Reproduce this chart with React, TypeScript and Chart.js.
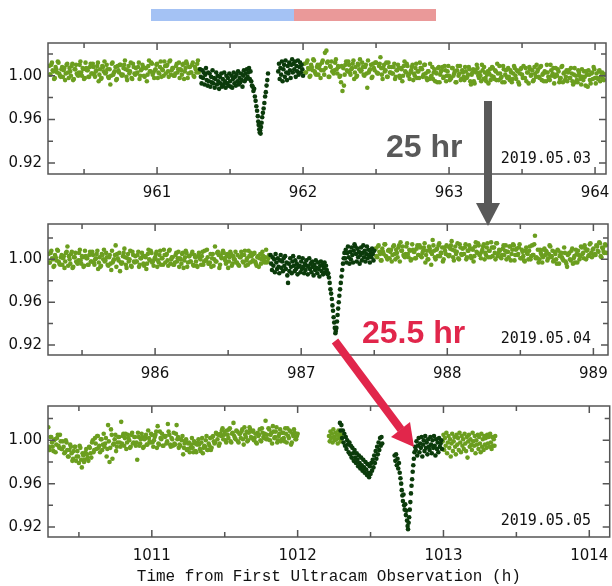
import React, { useEffect, useRef } from "react";
import { Chart, registerables } from "chart.js";

Chart.register(...registerables);

type Pt = [number, number];

// ---- axis tick values ----
const FLUX_TICKS = [0.92, 0.96, 1.0];
const FLUX_MINOR = [0.94, 0.98, 1.02];
const MAY03_HOURS = [961, 962, 963, 964];
const MAY03_HALF = [960.5, 961.5, 962.5, 963.5];
const MAY04_HOURS = [986, 987, 988, 989];
const MAY04_HALF = [985.5, 986.5, 987.5, 988.5];
const MAY05_HOURS = [1011, 1012, 1013, 1014];
const MAY05_HALF = [1010.5, 1011.5, 1012.5, 1013.5];

const DATES = ["2019.05.03", "2019.05.04", "2019.05.05"];
const X_TITLE = "Time from First Ultracam Observation (h)";
const GAP_1 = "25 hr";
const GAP_2 = "25.5 hr";

// ---- 2019.05.03 light curve (time h, relative flux) ----
const may03Out1: Pt[] = [
  [960.26,1.009],[960.27,1.001],[960.28,1.012],[960.29,1.004],[960.30,0.998],[960.31,1.006],[960.32,1.013],[960.33,1.002],[960.34,0.999],[960.35,1.008],
  [960.36,1.005],[960.37,0.996],[960.38,1.010],[960.39,1.003],[960.40,1.007],[960.41,1.000],[960.42,1.011],[960.43,0.997],[960.44,1.006],[960.45,1.002],
  [960.46,1.000],[960.47,1.010],[960.48,1.003],[960.49,1.007],[960.50,0.997],[960.51,1.012],[960.52,1.005],[960.53,0.999],[960.54,1.008],[960.55,1.002],
  [960.56,1.011],[960.57,1.001],[960.58,1.004],[960.59,1.009],[960.60,0.995],[960.61,1.006],[960.62,0.998],[960.63,1.008],[960.64,1.013],[960.65,1.003],
  [960.66,1.006],[960.67,0.998],[960.68,0.992],[960.69,1.011],[960.70,1.001],[960.71,1.004],[960.72,0.996],[960.73,1.009],[960.74,1.003],[960.75,1.010],
  [960.76,1.000],[960.77,1.007],[960.78,1.014],[960.79,0.999],[960.80,1.005],[960.81,1.002],[960.82,1.012],[960.83,0.997],[960.84,1.008],[960.85,1.001],
  [960.86,1.002],[960.87,1.008],[960.88,0.997],[960.89,1.005],[960.90,1.010],[960.91,1.000],[960.92,1.007],[960.93,0.995],[960.94,1.009],[960.95,1.004],
  [960.96,1.012],[960.97,1.001],[960.98,0.998],[960.99,1.006],[961.00,1.011],[961.01,1.003],[961.02,1.008],[961.03,0.999],[961.04,1.005],[961.05,1.013],
  [961.06,1.002],[961.07,1.010],[961.08,0.999],[961.09,1.014],[961.10,1.005],[961.11,1.007],[961.12,1.000],[961.13,1.009],[961.14,1.003],[961.15,1.012],
  [961.16,1.006],[961.17,1.001],[961.18,1.011],[961.19,1.004],[961.20,1.013],[961.21,0.998],[961.22,1.008],[961.23,1.003],[961.24,1.010],[961.25,1.000],
  [961.26,1.008],[961.27,1.003],[961.28,1.014],[961.29,1.006],
];
const may03Out1b: Pt[] = [
  [960.265,1.001],[960.275,1.010],[960.285,1.005],[960.295,0.997],[960.305,1.008],[960.315,1.003],[960.325,1.012],[960.335,1.000],[960.345,1.006],[960.355,0.999],
  [960.365,1.007],[960.375,1.002],[960.385,1.011],[960.395,0.998],[960.405,1.004],[960.415,1.009],[960.425,0.996],[960.435,1.006],[960.445,1.010],[960.455,1.001],
  [960.465,1.003],[960.475,1.013],[960.485,1.000],[960.495,1.006],[960.505,0.998],[960.515,1.007],[960.525,1.005],[960.535,0.999],[960.545,1.011],[960.555,1.002],
  [960.565,1.008],[960.575,0.999],[960.585,1.005],[960.595,1.012],[960.605,1.001],[960.615,0.997],[960.625,1.009],[960.635,1.004],[960.645,1.002],[960.655,1.010],
  [960.665,0.999],[960.675,1.006],[960.685,1.000],[960.695,1.012],[960.705,1.003],[960.715,1.008],[960.725,0.997],[960.735,1.005],[960.745,1.010],[960.755,1.001],
  [960.765,1.001],[960.775,1.010],[960.785,1.006],[960.795,0.996],[960.805,1.009],[960.815,1.004],[960.825,0.998],[960.835,1.011],[960.845,1.002],[960.855,1.007],
  [960.865,1.003],[960.875,1.012],[960.885,1.000],[960.895,1.006],[960.905,1.008],[960.915,0.999],[960.925,1.007],[960.935,1.001],[960.945,1.014],[960.955,1.004],
  [960.965,1.011],[960.975,1.003],[960.985,1.005],[960.995,1.010],[961.005,0.998],[961.015,1.002],[961.025,1.013],[961.035,1.006],[961.045,1.000],[961.055,1.009],
  [961.065,1.009],[961.075,1.004],[961.085,1.013],[961.095,1.001],[961.105,1.007],[961.115,1.000],[961.125,1.002],[961.135,1.011],[961.145,1.006],[961.155,0.998],
  [961.165,1.005],[961.175,1.010],[961.185,0.997],[961.195,1.007],[961.205,1.011],[961.215,1.002],[961.225,1.008],[961.235,1.003],[961.245,1.012],[961.255,0.999],
  [961.265,1.006],[961.275,1.011],[961.285,1.003],
];
const may03Win: Pt[] = [
  [961.295,1.006],[961.300,0.999],[961.305,0.993],[961.310,1.005],[961.315,0.998],[961.320,1.003],[961.325,0.992],[961.330,1.001],[961.335,1.007],[961.340,0.996],
  [961.345,0.991],[961.350,1.003],[961.355,0.995],[961.360,1.002],[961.365,0.990],[961.370,0.999],[961.375,0.994],[961.380,1.005],[961.385,0.993],[961.390,0.998],
  [961.395,0.989],[961.400,0.997],[961.405,1.003],[961.410,0.992],[961.415,1.000],[961.420,0.995],[961.425,0.988],[961.430,0.999],[961.435,0.993],[961.440,1.002],
  [961.445,0.990],[961.450,0.997],[961.455,0.992],[961.460,1.003],[961.465,0.995],[961.470,0.989],[961.475,1.000],[961.480,0.993],[961.485,0.998],[961.490,0.991],
  [961.495,1.002],[961.500,0.995],[961.505,0.990],[961.510,1.000],[961.515,0.989],[961.520,0.997],[961.525,1.003],[961.530,0.993],[961.535,0.999],[961.540,0.991],
  [961.545,1.001],[961.550,0.995],[961.555,1.004],[961.560,0.992],[961.565,0.998],[961.570,0.994],[961.575,1.002],[961.580,0.996],[961.585,0.990],[961.590,1.000],
  [961.595,1.005],[961.600,0.995],[961.605,1.002],[961.610,0.997],[961.615,1.006],[961.620,0.999],[961.625,1.003],[961.630,1.007],[961.635,0.997],[961.640,1.004],
  [961.645,0.995],[961.650,0.991],
  [961.655,0.990],[961.660,0.986],[961.665,0.988],[961.670,0.981],[961.675,0.977],[961.680,0.972],[961.685,0.968],[961.690,0.963],[961.693,0.958],[961.696,0.955],
  [961.700,0.951],[961.703,0.948],[961.706,0.950],[961.709,0.947],[961.712,0.953],[961.716,0.957],[961.720,0.962],[961.725,0.966],[961.730,0.970],[961.735,0.975],
  [961.740,0.981],[961.745,0.985],[961.750,0.991],[961.755,0.996],[961.760,1.002],
  [961.830,1.004],[961.835,1.011],[961.840,0.997],[961.845,1.007],[961.850,1.001],[961.855,1.013],[961.860,0.995],[961.865,1.006],[961.870,1.010],[961.875,0.999],
  [961.880,1.014],[961.885,1.003],[961.890,0.996],[961.895,1.009],[961.900,1.002],[961.905,1.012],[961.910,1.005],[961.915,0.998],[961.920,1.010],[961.925,1.015],
  [961.930,1.003],[961.935,1.011],[961.940,1.006],[961.945,1.013],[961.950,0.999],[961.955,1.009],[961.960,1.004],[961.965,1.014],[961.970,1.001],[961.975,1.008],
  [961.980,1.012],[961.985,1.003],[961.990,1.010],[961.995,1.006],[962.000,1.000],
];
const may03Out2: Pt[] = [
  [962.01,1.011],[962.02,1.003],[962.03,1.014],[962.04,1.006],[962.05,1.000],[962.06,1.008],[962.07,1.015],[962.08,1.004],[962.09,1.001],[962.10,1.010],
  [962.11,1.007],[962.12,0.998],[962.13,1.012],[962.14,1.005],[962.15,1.021],[962.16,1.023],[962.17,1.013],[962.18,0.999],[962.19,1.008],[962.20,1.004],
  [962.21,1.002],[962.22,1.012],[962.23,1.006],[962.24,1.009],[962.25,0.999],[962.26,0.994],[962.27,0.986],[962.28,0.991],[962.29,1.010],[962.30,1.005],
  [962.31,1.013],[962.32,1.003],[962.33,1.006],[962.34,1.011],[962.35,0.997],[962.36,1.008],[962.37,1.000],[962.38,1.010],[962.39,1.015],[962.40,1.005],
  [962.41,1.008],[962.42,1.000],[962.43,1.010],[962.44,0.989],[962.45,1.003],[962.46,1.006],[962.47,0.998],[962.48,1.011],[962.49,1.005],[962.50,1.012],
  [962.51,1.002],[962.52,1.009],[962.53,1.017],[962.54,1.001],[962.55,1.007],[962.56,1.004],[962.57,1.012],[962.58,0.999],[962.59,1.008],[962.60,1.003],
  [962.61,1.002],[962.62,1.008],[962.63,0.997],[962.64,1.005],[962.65,1.010],[962.66,1.000],[962.67,1.007],[962.68,0.995],[962.69,1.009],[962.70,1.004],
  [962.71,1.011],[962.72,1.000],[962.73,0.997],[962.74,1.005],[962.75,1.010],[962.76,1.002],[962.77,1.007],[962.78,0.998],[962.79,1.004],[962.80,1.012],
  [962.81,1.007],[962.82,0.999],[962.83,1.010],[962.84,1.002],[962.85,0.996],[962.86,1.004],[962.87,1.011],[962.88,1.000],[962.89,0.997],[962.90,1.006],
  [962.91,1.003],[962.92,0.994],[962.93,1.008],[962.94,1.001],[962.95,1.005],[962.96,0.998],[962.97,1.009],[962.98,0.995],[962.99,1.004],[963.00,1.000],
  [963.01,0.997],[963.02,1.007],[963.03,1.000],[963.04,1.004],[963.05,0.994],[963.06,1.009],[963.07,1.002],[963.08,0.996],[963.09,1.005],[963.10,0.999],
  [963.11,1.008],[963.12,0.998],[963.13,1.001],[963.14,1.006],[963.15,0.992],[963.16,1.003],[963.17,0.995],[963.18,1.005],[963.19,1.010],[963.20,1.000],
  [963.21,1.003],[963.22,0.995],[963.23,1.005],[963.24,1.008],[963.25,0.998],[963.26,1.001],[963.27,0.993],[963.28,1.006],[963.29,1.000],[963.30,1.007],
  [963.31,0.997],[963.32,1.004],[963.33,1.011],[963.34,0.996],[963.35,1.002],[963.36,0.999],[963.37,1.009],[963.38,0.994],[963.39,1.005],[963.40,0.998],
  [963.41,0.999],[963.42,1.005],[963.43,0.994],[963.44,1.002],[963.45,1.007],[963.46,0.997],[963.47,1.004],[963.48,0.992],[963.49,1.006],[963.50,1.001],
  [963.51,1.009],[963.52,0.998],[963.53,0.995],[963.54,1.003],[963.55,1.008],[963.56,1.000],[963.57,1.005],[963.58,0.996],[963.59,1.002],[963.60,1.010],
  [963.61,1.006],[963.62,0.998],[963.63,1.009],[963.64,1.001],[963.65,0.995],[963.66,1.003],[963.67,1.010],[963.68,0.999],[963.69,0.996],[963.70,1.005],
  [963.71,1.002],[963.72,0.993],[963.73,1.007],[963.74,1.000],[963.75,1.004],[963.76,0.997],[963.77,1.008],[963.78,0.994],[963.79,1.003],[963.80,0.999],
  [963.81,0.995],[963.82,1.005],[963.83,0.998],[963.84,1.002],[963.85,0.992],[963.86,1.007],[963.87,1.000],[963.88,0.994],[963.89,1.003],[963.90,0.997],
  [963.91,1.006],[963.92,0.996],[963.93,0.999],[963.94,1.004],[963.95,0.990],[963.96,1.001],[963.97,0.993],[963.98,1.003],[963.99,1.008],[964.00,0.998],
  [964.01,1.002],[964.02,0.997],[964.03,1.005],[964.04,0.999],[964.05,1.003],[964.06,0.996],[964.07,1.001],
];
const may03Out2b: Pt[] = [
  [962.015,1.003],[962.025,1.012],[962.035,1.007],[962.045,0.999],[962.055,1.010],[962.065,1.005],[962.075,1.014],[962.085,1.002],[962.095,1.008],[962.105,1.001],
  [962.115,1.010],[962.125,1.005],[962.135,1.014],[962.145,1.001],[962.155,1.007],[962.165,1.012],[962.175,0.999],[962.185,1.009],[962.195,1.013],[962.205,1.004],
  [962.215,1.005],[962.225,1.015],[962.235,1.002],[962.245,1.008],[962.255,1.000],[962.265,1.009],[962.275,1.007],[962.285,1.001],[962.295,1.013],[962.305,1.004],
  [962.315,1.010],[962.325,1.001],[962.335,1.007],[962.345,1.014],[962.355,1.003],[962.365,0.999],[962.375,1.011],[962.385,1.006],[962.395,1.004],[962.405,1.012],
  [962.415,1.001],[962.425,1.008],[962.435,1.002],[962.445,1.014],[962.455,1.005],[962.465,1.010],[962.475,0.999],[962.485,1.007],[962.495,1.012],[962.505,1.003],
  [962.515,1.002],[962.525,1.011],[962.535,1.007],[962.545,0.997],[962.555,1.010],[962.565,1.005],[962.575,0.999],[962.585,1.012],[962.595,1.003],[962.605,1.008],
  [962.615,1.002],[962.625,1.011],[962.635,0.999],[962.645,1.005],[962.655,1.007],[962.665,0.998],[962.675,1.006],[962.685,1.000],[962.695,1.013],[962.705,1.003],
  [962.715,1.009],[962.725,1.001],[962.735,1.003],[962.745,1.008],[962.755,0.996],[962.765,1.000],[962.775,1.011],[962.785,1.004],[962.795,0.998],[962.805,1.007],
  [962.815,1.006],[962.825,1.001],[962.835,1.010],[962.845,0.998],[962.855,1.004],[962.865,0.997],[962.875,0.999],[962.885,1.008],[962.895,1.003],[962.905,0.995],
  [962.915,1.002],[962.925,1.007],[962.935,0.994],[962.945,1.004],[962.955,1.008],[962.965,0.999],[962.975,1.005],[962.985,1.000],[962.995,1.009],[963.005,0.996],
  [963.015,0.998],[963.025,1.007],[963.035,1.002],[963.045,0.994],[963.055,1.005],[963.065,1.000],[963.075,1.009],[963.085,0.997],[963.095,1.003],[963.105,0.996],
  [963.115,1.004],[963.125,0.999],[963.135,1.008],[963.145,0.995],[963.155,1.001],[963.165,1.006],[963.175,0.993],[963.185,1.003],[963.195,1.007],[963.205,0.998],
  [963.215,1.000],[963.225,1.010],[963.235,0.997],[963.245,1.003],[963.255,0.995],[963.265,1.004],[963.275,1.002],[963.285,0.996],[963.295,1.008],[963.305,0.999],
  [963.315,1.005],[963.325,0.996],[963.335,1.002],[963.345,1.009],[963.355,0.998],[963.365,0.994],[963.375,1.006],[963.385,1.001],[963.395,0.999],[963.405,1.007],
  [963.415,0.996],[963.425,1.003],[963.435,0.997],[963.445,1.009],[963.455,1.000],[963.465,1.005],[963.475,0.994],[963.485,1.002],[963.495,1.007],[963.505,0.998],
  [963.515,0.998],[963.525,1.007],[963.535,1.003],[963.545,0.993],[963.555,1.006],[963.565,1.001],[963.575,0.995],[963.585,1.008],[963.595,0.999],[963.605,1.004],
  [963.615,0.999],[963.625,1.008],[963.635,0.996],[963.645,1.002],[963.655,1.004],[963.665,0.995],[963.675,1.003],[963.685,0.997],[963.695,1.010],[963.705,1.000],
  [963.715,1.007],[963.725,0.999],[963.735,1.001],[963.745,1.006],[963.755,0.994],[963.765,0.998],[963.775,1.009],[963.785,1.002],[963.795,0.996],[963.805,1.005],
  [963.815,1.003],[963.825,0.998],[963.835,1.007],[963.845,0.995],[963.855,1.001],[963.865,0.994],[963.875,0.996],[963.885,1.005],[963.895,1.000],[963.905,0.992],
  [963.915,0.999],[963.925,1.004],[963.935,0.991],[963.945,1.001],[963.955,1.005],[963.965,0.996],[963.975,1.002],[963.985,0.997],[963.995,1.006],[964.005,0.993],
  [964.015,0.998],[964.025,1.004],[964.035,0.995],[964.045,1.002],[964.055,0.997],[964.065,1.001],
];

// ---- 2019.05.04 light curve ----
const may04Out1: Pt[] = [
  [985.27,1.005],[985.28,0.997],[985.29,1.008],[985.30,1.000],[985.31,0.994],[985.32,1.002],[985.33,1.009],[985.34,0.998],[985.35,0.995],[985.36,1.004],
  [985.37,1.001],[985.38,0.992],[985.39,1.006],[985.40,1.012],[985.41,1.003],[985.42,0.996],[985.43,1.007],[985.44,0.993],[985.45,1.002],[985.46,0.998],
  [985.47,0.996],[985.48,1.006],[985.49,0.999],[985.50,1.003],[985.51,0.993],[985.52,1.008],[985.53,1.001],[985.54,0.995],[985.55,1.004],[985.56,0.998],
  [985.57,1.007],[985.58,0.997],[985.59,1.000],[985.60,1.005],[985.61,0.991],[985.62,1.002],[985.63,0.994],[985.64,1.004],[985.65,1.009],[985.66,0.999],
  [985.67,1.002],[985.68,0.994],[985.69,1.004],[985.70,0.990],[985.71,0.997],[985.72,1.000],[985.73,1.013],[985.74,1.005],[985.75,0.999],[985.76,0.989],
  [985.77,0.996],[985.78,1.003],[985.79,1.010],[985.80,0.995],[985.81,1.001],[985.82,0.998],[985.83,1.008],[985.84,0.993],[985.85,1.004],[985.86,0.997],
  [985.87,0.998],[985.88,1.004],[985.89,0.993],[985.90,1.001],[985.91,1.006],[985.92,0.996],[985.93,1.003],[985.94,0.991],[985.95,1.005],[985.96,1.000],
  [985.97,1.008],[985.98,0.997],[985.99,0.994],[986.00,1.002],[986.01,1.007],[986.02,0.999],[986.03,1.004],[986.04,0.995],[986.05,1.001],[986.06,1.009],
  [986.07,0.997],[986.08,1.005],[986.09,0.994],[986.10,1.009],[986.11,1.000],[986.12,1.002],[986.13,0.995],[986.14,1.004],[986.15,0.998],[986.16,1.007],
  [986.17,1.001],[986.18,0.996],[986.19,1.006],[986.20,0.999],[986.21,1.008],[986.22,0.993],[986.23,1.003],[986.24,0.998],[986.25,1.005],[986.26,0.995],
  [986.27,1.004],[986.28,0.998],[986.29,0.993],[986.30,1.006],[986.31,1.000],[986.32,1.003],[986.33,0.995],[986.34,1.008],[986.35,0.999],[986.36,1.002],
  [986.37,0.996],[986.38,1.005],[986.39,1.001],[986.40,0.994],[986.41,1.012],[986.42,0.998],[986.43,1.007],[986.44,0.992],[986.45,1.003],[986.46,1.006],
  [986.47,1.006],[986.48,0.999],[986.49,1.003],[986.50,0.992],[986.51,1.002],[986.52,1.005],[986.53,0.996],[986.54,1.000],[986.55,1.007],[986.56,0.997],
  [986.57,0.995],[986.58,1.002],[986.59,1.007],[986.60,0.998],[986.61,1.004],[986.62,0.994],[986.63,1.001],[986.64,1.008],[986.65,0.997],[986.66,1.003],
  [986.67,0.999],[986.68,1.006],[986.69,0.996],[986.70,1.002],[986.71,0.993],[986.72,1.005],[986.73,1.000],[986.74,1.003],[986.75,0.997],[986.76,1.009],
  [986.77,0.998],[986.78,1.004],
];
const may04Out1b: Pt[] = [
  [985.275,0.997],[985.285,1.006],[985.295,1.001],[985.305,0.993],[985.315,1.004],[985.325,0.999],[985.335,1.008],[985.345,0.996],[985.355,1.002],[985.365,0.995],
  [985.375,1.003],[985.385,0.998],[985.395,1.007],[985.405,0.994],[985.415,1.000],[985.425,1.005],[985.435,0.992],[985.445,1.002],[985.455,1.006],[985.465,0.997],
  [985.475,0.999],[985.485,1.009],[985.495,0.996],[985.505,1.002],[985.515,0.994],[985.525,1.003],[985.535,1.001],[985.545,0.995],[985.555,1.007],[985.565,0.998],
  [985.575,1.004],[985.585,0.995],[985.595,1.001],[985.605,1.008],[985.615,0.997],[985.625,0.993],[985.635,1.005],[985.645,1.000],[985.655,0.998],[985.665,1.006],
  [985.675,0.995],[985.685,1.002],[985.695,0.996],[985.705,1.008],[985.715,0.999],[985.725,1.004],[985.735,0.993],[985.745,1.001],[985.755,1.006],[985.765,0.997],
  [985.775,0.997],[985.785,1.006],[985.795,1.002],[985.805,0.992],[985.815,1.005],[985.825,1.000],[985.835,0.994],[985.845,1.007],[985.855,0.998],[985.865,1.003],
  [985.875,0.998],[985.885,1.007],[985.895,0.995],[985.905,1.001],[985.915,1.003],[985.925,0.994],[985.935,1.002],[985.945,0.996],[985.955,1.009],[985.965,0.999],
  [985.975,1.006],[985.985,0.998],[985.995,1.000],[986.005,1.005],[986.015,0.993],[986.025,0.997],[986.035,1.008],[986.045,1.001],[986.055,0.995],[986.065,1.004],
  [986.075,1.004],[986.085,0.999],[986.095,1.008],[986.105,0.996],[986.115,1.002],[986.125,0.995],[986.135,0.997],[986.145,1.006],[986.155,1.001],[986.165,0.993],
  [986.175,1.000],[986.185,1.005],[986.195,0.992],[986.205,1.002],[986.215,1.006],[986.225,0.997],[986.235,1.003],[986.245,0.998],[986.255,1.007],[986.265,0.994],
  [986.275,1.002],[986.285,0.994],[986.295,1.003],[986.305,1.001],[986.315,0.995],[986.325,1.007],[986.335,0.998],[986.345,0.999],[986.355,1.009],[986.365,0.996],
  [986.375,0.997],[986.385,0.993],[986.395,1.005],[986.405,1.000],[986.415,0.998],[986.425,1.006],[986.435,1.004],[986.445,0.995],[986.455,1.001],[986.465,1.008],
  [986.475,1.001],[986.485,0.996],[986.495,1.005],[986.505,0.998],[986.515,1.007],[986.525,0.994],[986.535,1.003],[986.545,1.000],[986.555,0.997],[986.565,1.004],
  [986.575,0.994],[986.585,1.002],[986.595,1.004],[986.605,0.997],[986.615,1.008],[986.625,0.999],[986.635,0.995],[986.645,1.003],[986.655,1.006],[986.665,0.998],
  [986.675,1.005],[986.685,0.998],[986.695,0.994],[986.705,1.003],[986.715,1.001],[986.725,0.996],[986.735,1.007],[986.745,0.999],[986.755,1.002],[986.765,0.997],
  [986.775,1.001],
];
const may04Win: Pt[] = [
  [986.790,1.004],[986.795,0.996],[986.800,0.990],[986.805,1.002],[986.810,0.994],[986.815,1.000],[986.820,0.988],[986.825,1.005],[986.830,0.997],[986.835,0.991],
  [986.840,1.001],[986.845,0.993],[986.850,0.987],[986.855,0.999],[986.860,1.004],[986.865,0.992],[986.870,0.998],[986.875,0.989],[986.880,1.001],[986.885,0.994],
  [986.890,1.003],[986.895,0.991],[986.900,0.997],[986.905,0.985],[986.910,0.978],[986.915,0.996],[986.920,0.989],[986.925,1.001],[986.930,0.993],[986.935,0.987],
  [986.940,0.998],[986.945,1.003],[986.950,0.994],[986.955,0.989],[986.960,0.999],[986.965,0.991],[986.970,0.996],[986.975,0.986],[986.980,0.993],[986.985,1.002],
  [986.990,0.994],[986.995,0.988],[987.000,0.998],[987.005,0.991],[987.010,1.001],[987.015,0.993],[987.020,0.987],[987.025,0.996],[987.030,0.990],[987.035,0.999],
  [987.040,0.994],[987.045,0.986],[987.050,0.993],[987.055,1.001],[987.060,0.991],[987.065,0.996],[987.070,0.988],[987.075,0.998],[987.080,0.993],[987.085,0.985],
  [987.090,0.995],[987.095,0.990],[987.100,0.999],[987.105,0.992],[987.110,0.987],[987.115,0.997],[987.120,0.991],[987.125,0.984],[987.130,0.994],[987.135,0.998],
  [987.140,0.989],[987.145,0.995],[987.150,0.986],[987.155,0.992],[987.160,0.997],[987.165,0.988],[987.170,0.994],[987.175,0.990],[987.180,0.986],
  [987.185,0.987],[987.190,0.983],[987.195,0.978],[987.200,0.972],[987.205,0.968],[987.210,0.963],[987.214,0.957],[987.218,0.952],[987.222,0.946],[987.226,0.941],
  [987.230,0.936],[987.234,0.931],[987.237,0.933],[987.241,0.936],[987.245,0.942],[987.249,0.948],[987.253,0.954],[987.257,0.960],[987.261,0.966],[987.266,0.972],
  [987.271,0.978],[987.276,0.984],[987.281,0.990],[987.286,0.996],[987.291,1.001],[987.296,1.006],
  [987.300,1.001],[987.305,1.009],[987.310,0.997],[987.315,1.006],[987.320,1.012],[987.325,1.002],[987.330,0.996],[987.335,1.007],[987.340,1.000],[987.345,1.011],
  [987.350,1.004],[987.355,0.997],[987.360,1.008],[987.365,1.014],[987.370,1.012],[987.375,1.005],[987.380,0.998],[987.385,1.010],[987.390,1.002],[987.395,1.007],
  [987.400,0.996],[987.405,1.004],[987.410,1.011],[987.415,0.999],[987.420,1.006],[987.425,1.013],[987.430,1.002],[987.435,1.008],[987.440,0.998],[987.445,1.005],
  [987.450,1.012],[987.455,1.001],[987.460,1.009],[987.465,1.004],[987.470,0.997],[987.475,1.007],[987.480,1.002],[987.485,1.010],[987.490,1.005],[987.495,0.999],
  [987.500,1.008],
];
const may04Out2: Pt[] = [
  [987.51,1.010],[987.52,1.002],[987.53,1.013],[987.54,1.005],[987.55,0.999],[987.56,1.007],[987.57,1.014],[987.58,1.003],[987.59,1.000],[987.60,1.009],
  [987.61,1.007],[987.62,0.998],[987.63,1.012],[987.64,1.005],[987.65,1.009],[987.66,1.002],[987.67,1.013],[987.68,1.016],[987.69,1.008],[987.70,1.004],
  [987.71,1.002],[987.72,1.012],[987.73,1.005],[987.74,1.009],[987.75,0.999],[987.76,1.014],[987.77,1.007],[987.78,1.001],[987.79,1.010],[987.80,1.004],
  [987.81,1.013],[987.82,1.003],[987.83,1.006],[987.84,1.011],[987.85,0.997],[987.86,1.008],[987.87,1.000],[987.88,1.010],[987.89,0.995],[987.90,1.018],
  [987.91,1.008],[987.92,1.000],[987.93,1.010],[987.94,1.013],[987.95,1.003],[987.96,1.006],[987.97,0.998],[987.98,1.011],[987.99,1.005],[988.00,1.012],
  [988.01,1.003],[988.02,1.010],[988.03,1.017],[988.04,1.002],[988.05,1.008],[988.06,1.005],[988.07,1.015],[988.08,1.000],[988.09,1.011],[988.10,1.004],
  [988.11,1.005],[988.12,1.011],[988.13,1.000],[988.14,1.008],[988.15,1.013],[988.16,1.003],[988.17,1.010],[988.18,0.998],[988.19,1.012],[988.20,1.007],
  [988.21,1.015],[988.22,1.004],[988.23,1.001],[988.24,1.009],[988.25,1.014],[988.26,1.006],[988.27,1.011],[988.28,1.002],[988.29,1.008],[988.30,1.016],
  [988.31,1.003],[988.32,1.011],[988.33,1.000],[988.34,1.015],[988.35,1.006],[988.36,1.008],[988.37,1.001],[988.38,1.010],[988.39,1.004],[988.40,1.013],
  [988.41,1.007],[988.42,1.002],[988.43,1.012],[988.44,1.005],[988.45,1.014],[988.46,0.999],[988.47,1.009],[988.48,1.004],[988.49,1.011],[988.50,1.001],
  [988.51,1.009],[988.52,1.003],[988.53,0.998],[988.54,1.011],[988.55,1.005],[988.56,1.008],[988.57,1.000],[988.58,1.013],[988.59,1.004],[988.60,1.022],
  [988.61,1.002],[988.62,1.009],[988.63,1.000],[988.64,1.006],[988.65,0.997],[988.66,1.009],[988.67,1.004],[988.68,1.007],[988.69,1.001],[988.70,1.013],
  [988.71,1.002],[988.72,1.008],[988.73,0.999],[988.74,1.005],[988.75,0.996],[988.76,1.008],[988.77,1.003],[988.78,1.006],[988.79,1.000],[988.80,1.011],
  [988.81,0.998],[988.82,0.993],[988.83,1.005],[988.84,1.000],[988.85,1.008],[988.86,0.996],[988.87,1.003],[988.88,1.009],[988.89,0.997],[988.90,1.004],
  [988.91,1.003],[988.92,1.011],[988.93,1.006],[988.94,1.013],[988.95,1.000],[988.96,1.009],[988.97,1.004],[988.98,1.015],[988.99,1.002],[989.00,1.010],
  [989.01,1.005],[989.02,1.013],[989.03,1.008],[989.04,1.016],[989.05,1.003],[989.06,1.011],[989.07,1.007],[989.08,1.014],[989.09,1.006],
];
const may04Out2b: Pt[] = [
  [987.515,1.003],[987.525,1.012],[987.535,1.007],[987.545,0.999],[987.555,1.010],[987.565,1.005],[987.575,1.014],[987.585,1.002],[987.595,1.008],[987.605,1.001],
  [987.615,1.009],[987.625,1.004],[987.635,1.013],[987.645,1.000],[987.655,1.006],[987.665,1.011],[987.675,0.998],[987.685,1.008],[987.695,1.012],[987.705,1.003],
  [987.715,1.005],[987.725,1.015],[987.735,1.002],[987.745,1.008],[987.755,1.000],[987.765,1.009],[987.775,1.007],[987.785,1.001],[987.795,1.013],[987.805,1.004],
  [987.815,1.011],[987.825,1.002],[987.835,1.008],[987.845,1.015],[987.855,1.004],[987.865,1.000],[987.875,1.012],[987.885,1.007],[987.895,1.005],[987.905,1.013],
  [987.915,1.002],[987.925,1.009],[987.935,1.003],[987.945,1.015],[987.955,1.006],[987.965,1.011],[987.975,1.000],[987.985,1.008],[987.995,1.013],[988.005,1.004],
  [988.015,1.004],[988.025,1.013],[988.035,1.009],[988.045,0.999],[988.055,1.012],[988.065,1.007],[988.075,1.001],[988.085,1.014],[988.095,1.005],[988.105,1.010],
  [988.115,1.005],[988.125,1.014],[988.135,1.002],[988.145,1.008],[988.155,1.010],[988.165,1.001],[988.175,1.009],[988.185,1.003],[988.195,1.016],[988.205,1.006],
  [988.215,1.013],[988.225,1.005],[988.235,1.007],[988.245,1.012],[988.255,1.000],[988.265,1.004],[988.275,1.015],[988.285,1.008],[988.295,1.002],[988.305,1.011],
  [988.315,1.011],[988.325,1.006],[988.335,1.015],[988.345,1.003],[988.355,1.009],[988.365,1.002],[988.375,1.004],[988.385,1.013],[988.395,1.008],[988.405,1.000],
  [988.415,1.007],[988.425,1.012],[988.435,0.999],[988.445,1.009],[988.455,1.013],[988.465,1.004],[988.475,1.010],[988.485,1.005],[988.495,1.014],[988.505,1.001],
  [988.515,1.007],[988.525,0.999],[988.535,1.008],[988.545,1.006],[988.555,1.000],[988.565,1.012],[988.575,1.003],[988.585,1.004],[988.595,1.014],[988.605,1.001],
  [988.615,1.001],[988.625,0.997],[988.635,1.009],[988.645,1.004],[988.655,1.002],[988.665,1.010],[988.675,1.008],[988.685,0.999],[988.695,1.005],[988.705,1.012],
  [988.715,1.003],[988.725,0.998],[988.735,1.007],[988.745,1.000],[988.755,1.009],[988.765,0.996],[988.775,1.005],[988.785,1.002],[988.795,0.999],[988.805,1.006],
  [988.815,0.996],[988.825,1.004],[988.835,1.006],[988.845,0.999],[988.855,1.010],[988.865,1.001],[988.875,0.997],[988.885,1.005],[988.895,1.008],[988.905,1.000],
  [988.915,1.012],[988.925,1.005],[988.935,1.001],[988.945,1.010],[988.955,1.008],[988.965,1.003],[988.975,1.014],[988.985,1.006],[988.995,1.009],[989.005,1.004],
  [989.015,1.004],[989.025,1.012],[989.035,1.007],[989.045,1.015],[989.055,1.002],[989.065,1.010],[989.075,1.006],[989.085,1.013],
];

// ---- 2019.05.05 light curve ----
const may05Out1: Pt[] = [
  [1010.29,1.012],[1010.30,0.991],[1010.31,1.003],[1010.32,0.994],[1010.33,1.000],[1010.34,0.989],[1010.35,1.002],[1010.36,0.995],[1010.37,1.005],[1010.38,0.992],
  [1010.39,0.999],[1010.40,0.988],[1010.41,1.000],[1010.42,0.991],[1010.43,0.985],[1010.44,0.996],[1010.45,0.988],[1010.46,0.983],[1010.47,0.994],[1010.48,0.981],
  [1010.49,0.990],[1010.50,0.979],[1010.51,0.993],[1010.52,0.975],[1010.53,0.986],[1010.54,0.982],[1010.55,0.992],[1010.56,0.984],[1010.57,0.994],[1010.58,0.988],
  [1010.59,0.998],[1010.60,0.989],[1010.61,1.002],[1010.62,0.992],[1010.63,1.004],[1010.64,0.995],[1010.65,1.001],[1010.66,0.991],[1010.67,1.006],[1010.68,0.997],
  [1010.69,0.985],[1010.70,1.014],[1010.71,0.980],[1010.72,1.010],[1010.73,0.983],[1010.74,0.997],[1010.75,1.005],[1010.76,0.994],[1010.77,1.003],[1010.78,0.998],
  [1010.79,1.017],[1010.80,1.004],[1010.81,0.995],[1010.82,1.006],[1010.83,0.998],[1010.84,1.002],[1010.85,0.993],[1010.86,1.005],[1010.87,0.997],[1010.88,1.003],
  [1010.89,0.995],[1010.90,0.982],[1010.91,1.003],[1010.92,0.997],[1010.93,1.006],[1010.94,0.993],[1010.95,1.001],[1010.96,1.005],[1010.97,0.996],[1010.98,1.002],
  [1010.99,0.998],[1011.00,1.005],[1011.01,0.994],[1011.02,1.003],[1011.03,1.008],[1011.04,1.013],[1011.05,0.996],[1011.06,1.002],[1011.07,1.006],[1011.08,0.995],
  [1011.09,1.003],[1011.10,0.997],[1011.11,1.015],[1011.12,1.005],[1011.13,0.994],[1011.14,1.001],[1011.15,1.007],[1011.16,0.996],[1011.17,1.014],[1011.18,1.003],
  [1011.19,0.996],[1011.20,1.001],[1011.21,1.004],[1011.22,0.993],[1011.23,0.999],[1011.24,0.991],[1011.25,0.997],[1011.26,0.989],[1011.27,0.996],[1011.28,0.993],
  [1011.29,0.999],[1011.30,0.990],[1011.31,0.996],[1011.32,1.001],[1011.33,0.992],[1011.34,0.998],[1011.35,0.988],[1011.36,0.995],[1011.37,1.000],[1011.38,0.991],
  [1011.39,0.997],[1011.40,1.002],[1011.41,0.993],[1011.42,1.004],[1011.43,0.997],[1011.44,1.007],[1011.45,1.001],[1011.46,0.995],[1011.47,1.006],[1011.48,1.009],
  [1011.49,1.001],[1011.50,1.008],[1011.51,0.998],[1011.52,1.005],[1011.53,1.010],[1011.54,0.999],[1011.55,1.006],[1011.56,1.016],[1011.57,1.002],[1011.58,1.009],
  [1011.59,0.999],[1011.60,1.006],[1011.61,1.002],[1011.62,1.010],[1011.63,0.996],[1011.64,1.005],[1011.65,1.008],[1011.66,1.000],[1011.67,1.012],[1011.68,1.003],
  [1011.69,1.008],[1011.70,1.000],[1011.71,1.006],[1011.72,0.997],[1011.73,1.004],[1011.74,1.010],[1011.75,0.999],[1011.76,1.007],[1011.77,1.002],[1011.78,1.018],
  [1011.79,1.005],[1011.80,1.011],[1011.81,1.000],[1011.82,1.007],[1011.83,1.013],[1011.84,1.002],[1011.85,1.008],[1011.86,0.998],[1011.87,1.004],[1011.88,1.010],
  [1011.89,1.001],[1011.90,1.007],[1011.91,0.999],[1011.92,1.006],[1011.93,1.011],[1011.94,1.002],[1011.95,1.008],[1011.96,0.998],[1011.97,1.004],[1011.98,1.007],
  [1011.99,1.001],[1012.00,1.006],
];
const may05Out1b: Pt[] = [
  [1010.295,0.994],[1010.305,1.003],[1010.315,0.998],[1010.325,0.990],[1010.335,1.001],[1010.345,0.996],[1010.355,1.005],[1010.365,0.993],[1010.375,0.999],[1010.385,0.992],
  [1010.395,0.994],[1010.405,0.989],[1010.415,0.998],[1010.425,0.985],[1010.435,0.991],[1010.445,0.994],[1010.455,0.981],[1010.465,0.990],[1010.475,0.994],[1010.485,0.985],
  [1010.495,0.985],[1010.505,0.995],[1010.515,0.982],[1010.525,0.988],[1010.535,0.980],[1010.545,0.989],[1010.555,0.987],[1010.565,0.981],[1010.575,0.993],[1010.585,0.984],
  [1010.595,1.000],[1010.605,0.991],[1010.615,0.997],[1010.625,1.004],[1010.635,0.993],[1010.645,0.989],[1010.655,1.001],[1010.665,0.996],[1010.675,0.994],[1010.685,1.002],
  [1010.695,0.992],[1010.705,0.999],[1010.715,0.993],[1010.725,1.005],[1010.735,0.996],[1010.745,1.001],[1010.755,0.990],[1010.765,0.998],[1010.775,1.003],[1010.785,0.994],
  [1010.795,0.997],[1010.805,1.006],[1010.815,1.002],[1010.825,0.992],[1010.835,1.005],[1010.845,1.000],[1010.855,0.994],[1010.865,1.007],[1010.875,0.998],[1010.885,1.003],
  [1010.895,0.998],[1010.905,1.007],[1010.915,0.995],[1010.925,1.001],[1010.935,1.003],[1010.945,0.994],[1010.955,1.002],[1010.965,0.996],[1010.975,1.009],[1010.985,0.999],
  [1010.995,1.006],[1011.005,0.998],[1011.015,1.000],[1011.025,1.005],[1011.035,0.993],[1011.045,0.997],[1011.055,1.008],[1011.065,1.001],[1011.075,0.995],[1011.085,1.004],
  [1011.095,1.004],[1011.105,0.999],[1011.115,1.008],[1011.125,0.996],[1011.135,1.002],[1011.145,0.995],[1011.155,0.997],[1011.165,1.006],[1011.175,1.001],[1011.185,0.993],
  [1011.195,0.995],[1011.205,1.000],[1011.215,0.987],[1011.225,0.997],[1011.235,1.001],[1011.245,0.992],[1011.255,0.998],[1011.265,0.993],[1011.275,1.002],[1011.285,0.989],
  [1011.295,0.997],[1011.305,0.989],[1011.315,0.998],[1011.325,0.996],[1011.335,0.990],[1011.345,1.002],[1011.355,0.993],[1011.365,0.994],[1011.375,1.004],[1011.385,0.991],
  [1011.395,0.995],[1011.405,0.991],[1011.415,1.003],[1011.425,0.999],[1011.435,0.998],[1011.445,1.006],[1011.455,1.005],[1011.465,0.997],[1011.475,1.004],[1011.485,1.011],
  [1011.495,1.005],[1011.505,1.000],[1011.515,1.009],[1011.525,1.002],[1011.535,1.011],[1011.545,0.998],[1011.555,1.007],[1011.565,1.004],[1011.575,1.001],[1011.585,1.008],
  [1011.595,0.998],[1011.605,1.006],[1011.615,1.008],[1011.625,1.001],[1011.635,1.012],[1011.645,1.003],[1011.655,0.999],[1011.665,1.007],[1011.675,1.010],[1011.685,1.002],
  [1011.695,1.009],[1011.705,1.002],[1011.715,0.998],[1011.725,1.007],[1011.735,1.005],[1011.745,1.000],[1011.755,1.011],[1011.765,1.003],[1011.775,1.006],[1011.785,1.001],
  [1011.795,1.001],[1011.805,1.010],[1011.815,1.005],[1011.825,0.997],[1011.835,1.008],[1011.845,1.003],[1011.855,1.012],[1011.865,1.000],[1011.875,1.006],[1011.885,0.999],
  [1011.895,1.007],[1011.905,1.002],[1011.915,1.011],[1011.925,0.998],[1011.935,1.004],[1011.945,1.009],[1011.955,0.996],[1011.965,1.006],[1011.975,1.010],[1011.985,1.001],
  [1011.995,1.004],
];
const may05Out2: Pt[] = [
  [1012.215,1.004],[1012.220,0.999],[1012.225,1.008],[1012.230,1.002],[1012.235,1.006],[1012.240,0.998],[1012.245,1.010],[1012.250,1.003],[1012.255,1.000],
  [1012.260,1.007],[1012.265,1.001],[1012.270,1.005],[1012.275,0.997],[1012.280,1.009],[1012.285,1.002],[1012.290,1.006],[1012.295,0.999],[1012.300,1.004],
];
const may05Win: Pt[] = [
  [1012.290,1.016],[1012.295,1.009],[1012.300,1.014],[1012.305,1.002],[1012.310,1.009],[1012.315,0.998],[1012.320,1.006],[1012.325,0.995],[1012.330,1.003],[1012.335,0.992],
  [1012.340,1.000],[1012.345,0.996],[1012.350,0.989],[1012.355,0.998],[1012.360,0.987],[1012.365,0.995],[1012.370,0.984],[1012.375,0.993],[1012.380,0.988],[1012.385,0.981],
  [1012.390,0.991],[1012.395,0.984],[1012.400,0.979],[1012.405,0.988],[1012.410,0.982],[1012.415,0.976],[1012.420,0.986],[1012.425,0.979],[1012.430,0.974],[1012.435,0.984],
  [1012.440,0.977],[1012.445,0.972],[1012.450,0.982],[1012.455,0.975],[1012.460,0.970],[1012.465,0.980],[1012.470,0.973],[1012.475,0.968],[1012.480,0.978],[1012.485,0.970],
  [1012.490,0.966],[1012.495,0.976],[1012.500,0.969],[1012.505,0.979],[1012.510,0.972],[1012.515,0.982],[1012.520,0.975],[1012.525,0.986],[1012.530,0.979],[1012.535,0.990],
  [1012.540,0.983],[1012.545,0.994],[1012.550,0.987],[1012.555,0.998],[1012.560,0.991],[1012.565,1.002],[1012.570,0.995],[1012.575,1.003],[1012.580,0.997],
  [1012.665,0.986],[1012.670,0.981],[1012.675,0.987],[1012.680,0.977],[1012.685,0.983],[1012.690,0.974],[1012.695,0.979],[1012.700,0.970],[1012.705,0.965],[1012.710,0.960],
  [1012.714,0.954],[1012.718,0.949],[1012.722,0.944],[1012.726,0.950],[1012.730,0.940],[1012.734,0.936],[1012.738,0.941],[1012.742,0.931],[1012.746,0.935],[1012.750,0.926],
  [1012.754,0.921],[1012.757,0.918],[1012.761,0.924],[1012.765,0.929],[1012.769,0.936],[1012.773,0.943],[1012.777,0.951],[1012.781,0.958],[1012.785,0.964],[1012.789,0.971],
  [1012.793,0.977],[1012.797,0.983],[1012.801,0.989],[1012.805,0.994],
  [1012.810,0.991],[1012.815,0.999],[1012.820,0.986],[1012.825,0.995],[1012.830,1.002],[1012.835,0.989],[1012.840,0.997],[1012.845,0.993],[1012.850,1.003],[1012.855,0.985],
  [1012.860,0.996],[1012.865,1.000],[1012.870,0.990],[1012.875,1.004],[1012.880,0.993],[1012.885,0.998],[1012.890,0.987],[1012.895,1.001],[1012.900,0.994],[1012.905,0.991],
  [1012.910,1.003],[1012.915,0.996],[1012.920,0.988],[1012.925,1.000],[1012.930,0.993],[1012.935,1.004],[1012.940,0.995],[1012.945,0.986],[1012.950,1.001],[1012.955,0.992],
  [1012.960,0.998],[1012.965,0.989],[1012.970,1.002],[1012.975,0.994],[1012.980,0.997],[1012.985,1.000],[1012.990,0.992],
];
const may05Out3: Pt[] = [
  [1012.995,0.999],[1013.000,1.005],[1013.005,0.991],[1013.010,1.002],[1013.015,0.995],[1013.020,1.007],[1013.025,0.988],[1013.030,0.998],[1013.035,1.004],[1013.040,0.993],
  [1013.045,1.001],[1013.050,0.985],[1013.055,0.997],[1013.060,1.006],[1013.065,0.990],[1013.070,0.999],[1013.075,1.003],[1013.080,0.994],[1013.085,0.987],[1013.090,1.005],
  [1013.095,0.996],[1013.100,1.002],[1013.105,0.991],[1013.110,1.007],[1013.115,0.998],[1013.120,0.989],[1013.125,1.004],[1013.130,0.995],[1013.135,1.001],[1013.140,0.992],
  [1013.145,1.006],[1013.150,0.997],[1013.155,0.990],[1013.160,1.003],[1013.165,0.984],[1013.170,0.999],[1013.175,1.005],[1013.180,0.994],[1013.185,1.001],[1013.190,0.996],
  [1013.195,0.991],[1013.200,1.007],[1013.205,0.999],[1013.210,0.995],[1013.215,1.004],[1013.220,0.988],[1013.225,1.000],[1013.230,0.996],[1013.235,1.005],[1013.240,0.992],
  [1013.245,1.003],[1013.250,0.997],[1013.255,0.989],[1013.260,1.006],[1013.265,0.994],[1013.270,1.001],[1013.275,0.991],[1013.280,1.004],[1013.285,0.996],[1013.290,1.002],
  [1013.295,0.993],[1013.300,1.005],[1013.305,0.997],[1013.310,1.003],[1013.315,0.994],[1013.320,1.006],[1013.325,0.998],[1013.330,0.992],[1013.335,1.003],[1013.340,0.995],
  [1013.345,1.001],[1013.350,0.995],[1013.355,1.004],
];

// ---- colours ----
const LIGHT = "#6b9e1f";
const DARK = "#0b3b0b";
const FRAME = "#555555";
const INK = "#111111";
const GREY_ARROW = "#595959";
const RED = "#e1264b";

interface PanelDef {
  top: number;
  height: number;
  padTop: number;
  padRight: number;
  axisH: number;
  xMin: number;
  xMax: number;
  yMin: number;
  yMax: number;
  hours: number[];
  half: number[];
  outside: Pt[][];
  window: Pt[][];
  title?: string;
}

const PANELS: PanelDef[] = [
  {
    top: 30, height: 180, padTop: 13, padRight: 6, axisH: 36,
    xMin: 960.253, xMax: 964.075, yMin: 0.91, yMax: 1.03,
    hours: MAY03_HOURS, half: MAY03_HALF,
    outside: [may03Out1, may03Out1b, may03Out2, may03Out2b], window: [may03Win],
  },
  {
    top: 212, height: 180, padTop: 12, padRight: 4, axisH: 37,
    xMin: 985.267, xMax: 989.1, yMin: 0.9107, yMax: 1.033,
    hours: MAY04_HOURS, half: MAY04_HALF,
    outside: [may04Out1, may04Out1b, may04Out2, may04Out2b], window: [may04Win],
  },
  {
    top: 394, height: 192, padTop: 12, padRight: 1.5, axisH: 49,
    xMin: 1010.288, xMax: 1014.14, yMin: 0.9108, yMax: 1.0316,
    hours: MAY05_HOURS, half: MAY05_HALF,
    outside: [may05Out1, may05Out1b, may05Out2, may05Out3], window: [may05Win],
    title: X_TITLE,
  },
];

// Box around the plot area with inward major/minor tick marks on all four sides
const framePlugin = {
  id: "frame",
  afterDatasetsDraw(chart: any, _args: any, opts: any) {
    const { ctx, chartArea: a } = chart;
    const xs = chart.scales.x;
    const ys = chart.scales.y;
    ctx.save();
    ctx.strokeStyle = FRAME;
    ctx.lineWidth = 1.5;
    ctx.beginPath();
    const marks = (vals: number[], len: number, horizontal: boolean) => {
      for (const v of vals) {
        if (horizontal) {
          const p = xs.getPixelForValue(v);
          if (p < a.left || p > a.right) continue;
          ctx.moveTo(p, a.bottom);
          ctx.lineTo(p, a.bottom - len);
          ctx.moveTo(p, a.top);
          ctx.lineTo(p, a.top + len);
        } else {
          const p = ys.getPixelForValue(v);
          if (p < a.top || p > a.bottom) continue;
          ctx.moveTo(a.left, p);
          ctx.lineTo(a.left + len, p);
          ctx.moveTo(a.right, p);
          ctx.lineTo(a.right - len, p);
        }
      }
    };
    marks(opts.xMajor, 7, true);
    marks(opts.xMinor, 5, true);
    marks(opts.yMajor, 7, false);
    marks(opts.yMinor, 5, false);
    ctx.stroke();
    ctx.strokeRect(a.left, a.top, a.right - a.left, a.bottom - a.top);
    ctx.restore();
  },
};

const toXY = (pts: Pt[]) => pts.map(([x, y]) => ({ x, y }));

function Panel({ def }: { def: PanelDef }) {
  const ref = useRef<HTMLCanvasElement>(null);

  useEffect(() => {
    const canvas = ref.current;
    if (!canvas) return;
    const pointStyle = (color: string, r: number) => ({
      backgroundColor: color,
      pointBackgroundColor: color,
      pointBorderWidth: 0,
      pointRadius: r,
      pointHoverRadius: 0,
      showLine: false,
    });
    const chart = new Chart(canvas, {
      type: "scatter",
      data: {
        datasets: [
          ...def.window.map((seg) => ({ data: toXY(seg), ...pointStyle(DARK, 2.3) })),
          ...def.outside.map((seg) => ({ data: toXY(seg), ...pointStyle(LIGHT, 2.3) })),
        ],
      },
      options: {
        animation: false,
        responsive: false,
        devicePixelRatio: 1,
        events: [],
        layout: { padding: { top: def.padTop, right: def.padRight, left: 0, bottom: 0 } },
        plugins: {
          legend: { display: false },
          tooltip: { enabled: false },
          frame: {
            xMajor: def.hours,
            xMinor: def.half,
            yMajor: FLUX_TICKS,
            yMinor: FLUX_MINOR,
          },
        } as any,
        scales: {
          x: {
            type: "linear",
            position: "bottom",
            min: def.xMin,
            max: def.xMax,
            grid: { display: false, drawTicks: false },
            border: { display: false },
            afterBuildTicks: (s: any) => {
              s.ticks = def.hours.map((v) => ({ value: v }));
            },
            afterFit: (s: any) => {
              s.height = def.axisH;
              s.paddingLeft = 0;
              s.paddingRight = 0;
            },
            ticks: {
              autoSkip: false,
              maxRotation: 0,
              padding: 10,
              color: INK,
              font: { family: "DejaVu Sans", size: 15 },
              callback: (v: any) => String(v),
            },
            title: def.title
              ? {
                  display: true,
                  text: def.title,
                  color: INK,
                  font: { family: "Liberation Mono", size: 16 },
                  padding: { top: 0, bottom: 0 },
                }
              : { display: false },
          },
          y: {
            type: "linear",
            position: "left",
            min: def.yMin,
            max: def.yMax,
            grid: { display: false, drawTicks: false },
            border: { display: false },
            afterBuildTicks: (s: any) => {
              s.ticks = FLUX_TICKS.map((v) => ({ value: v }));
            },
            afterFit: (s: any) => {
              s.width = 48;
              s.paddingTop = 0;
              s.paddingBottom = 0;
            },
            ticks: {
              autoSkip: false,
              padding: 6,
              color: INK,
              font: { family: "DejaVu Sans", size: 15 },
              callback: (v: any) => Number(v).toFixed(2),
            },
          },
        },
      } as any,
      plugins: [framePlugin],
    });
    return () => chart.destroy();
  }, [def]);

  return (
    <canvas
      ref={ref}
      width={612}
      height={def.height}
      style={{ position: "absolute", left: 0, top: def.top, width: 612, height: def.height, display: "block" }}
    />
  );
}

export default function App() {
  const bold = { fontFamily: "'Liberation Sans', Arial, sans-serif", fontWeight: 700, fontSize: 32 };
  const mono = { fontFamily: "'DejaVu Sans Mono', monospace", fontSize: 15 };
  return (
    <div
      style={{
        position: "absolute",
        left: 0,
        top: 0,
        width: 612,
        height: 586,
        background: "#ffffff",
        overflow: "hidden",
      }}
    >
      {PANELS.map((p, i) => (
        <Panel key={i} def={p} />
      ))}
      <svg
        width={612}
        height={586}
        style={{ position: "absolute", left: 0, top: 0, pointerEvents: "none" }}
      >
        {/* observing-window bar */}
        <rect x={151} y={9} width={143} height={12} fill="#a4c2f4" />
        <rect x={294} y={9} width={142} height={12} fill="#ea9999" />

        {/* date of each night */}
        <text x={591} y={163} textAnchor="end" fill={INK} style={mono}>{DATES[0]}</text>
        <text x={591} y={343} textAnchor="end" fill={INK} style={mono}>{DATES[1]}</text>
        <text x={591} y={525} textAnchor="end" fill={INK} style={mono}>{DATES[2]}</text>

        {/* 25 hr gap */}
        <rect x={484} y={101} width={8} height={104} fill={GREY_ARROW} />
        <polygon points="476,203 500,203 488,226" fill={GREY_ARROW} />
        <text x={386} y={157} fill={GREY_ARROW} style={bold}>{GAP_1}</text>

        {/* 25.5 hr gap */}
        <line x1={335} y1={341} x2={401} y2={429.5} stroke={RED} strokeWidth={8} />
        <polygon points="414,447 391,437 410,422" fill={RED} />
        <text x={362} y={343} fill={RED} style={bold}>{GAP_2}</text>
      </svg>
    </div>
  );
}
